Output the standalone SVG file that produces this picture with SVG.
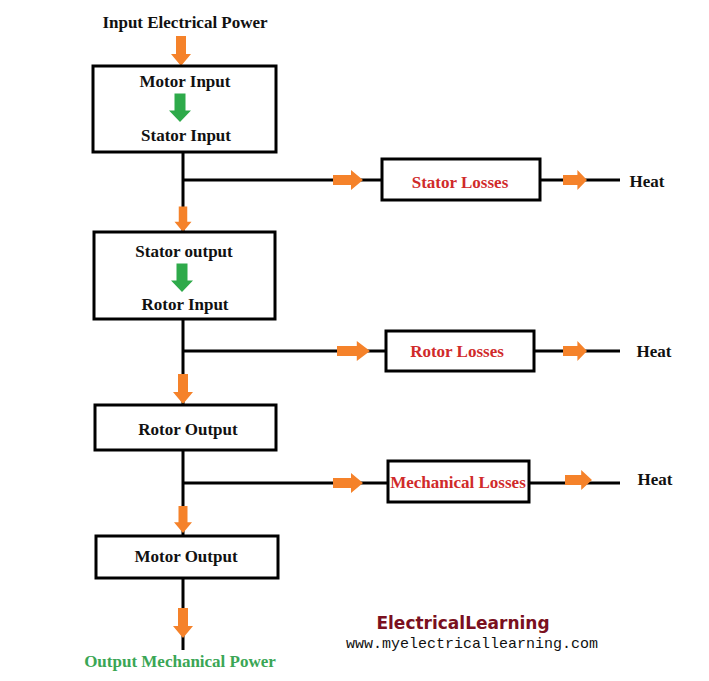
<svg xmlns="http://www.w3.org/2000/svg" xmlns:xlink="http://www.w3.org/1999/xlink" width="709" height="681" viewBox="0 0 709 681">
<style>
.box{fill:#fff;stroke:#000;stroke-width:3}
.ln{stroke:#000;stroke-width:3;fill:none}
.t{font-family:"Liberation Serif",serif;font-weight:bold;font-size:17px;text-anchor:middle;fill:#111}
.r{fill:#d02a2a}
.oa{fill:#f5822a}
.ga{fill:#2eaa4a}
</style>
<defs>
<path id="ar" d="M-30,-5 H-12 V-10 L0,0 L-12,10 V5 H-30 Z"/>
</defs>
<rect width="709" height="681" fill="#fff"/>
<g id="connectors">
<path class="ln" d="M183,152 V232 M183,319 V405 M183,450 V536 M183,578 V650"/>
<path class="ln" d="M183,180 H382 M540,180 H620 M183,351 H386 M534,351 H620 M183,483 H388 M529,483 H620"/>
<use href="#ar" class="oa" transform="translate(181,66) rotate(90)"/>
<use href="#ar" class="oa" transform="translate(183,232) rotate(90) scale(0.85)"/>
<use href="#ar" class="oa" transform="translate(183,404) rotate(90)"/>
<use href="#ar" class="oa" transform="translate(183,533) rotate(90) scale(0.9)"/>
<use href="#ar" class="oa" transform="translate(183,638) rotate(90)"/>
<use href="#ar" class="oa" transform="translate(363,180)"/>
<use href="#ar" class="oa" transform="translate(370,351) scale(1.1,1)"/>
<use href="#ar" class="oa" transform="translate(363,483)"/>
<use href="#ar" class="oa" transform="translate(587,180) scale(0.8,1)"/>
<use href="#ar" class="oa" transform="translate(587,351) scale(0.8,1)"/>
<use href="#ar" class="oa" transform="translate(592,480) scale(0.9,1)"/>
</g>
<text class="t" x="185" y="28" font-size="18">Input Electrical Power</text>
<g id="n1">
<rect class="box" x="93" y="66" width="183" height="86"/>
<text class="t" x="185" y="87">Motor Input</text>
<use href="#ar" class="ga" transform="translate(180,122) rotate(90) scale(0.95,1.1)"/>
<text class="t" x="186" y="141">Stator Input</text>
</g>
<g id="n2">
<rect class="box" x="94" y="232" width="181" height="87"/>
<text class="t" x="184" y="257">Stator output</text>
<use href="#ar" class="ga" transform="translate(182,292) rotate(90) scale(0.95,1.1)"/>
<text class="t" x="185" y="310">Rotor Input</text>
</g>
<g id="n3">
<rect class="box" x="95" y="405" width="181" height="45"/>
<text class="t" x="188" y="435">Rotor Output</text>
</g>
<g id="n4">
<rect class="box" x="96" y="536" width="182" height="42"/>
<text class="t" x="186" y="562" font-size="18">Motor Output</text>
</g>
<g id="s1">
<rect class="box" x="382" y="159" width="158" height="41"/>
<text class="t r" x="460" y="188" font-size="18">Stator Losses</text>
</g>
<g id="s2">
<rect class="box" x="386" y="331" width="148" height="40"/>
<text class="t r" x="457" y="357" font-size="18">Rotor Losses</text>
</g>
<g id="s3">
<rect class="box" x="388" y="461" width="141" height="41"/>
<text class="t r" x="458" y="488" font-size="14">Mechanical Losses</text>
</g>
<text class="t" x="647" y="187" font-size="18">Heat</text>
<text class="t" x="654" y="357" font-size="18">Heat</text>
<text class="t" x="655" y="485" font-size="18">Heat</text>
<text class="t" x="180" y="667" font-size="18" fill="#3aa655" style="fill:#3aa655">Output Mechanical Power</text>
<text x="463" y="629" font-family="'Comic Sans MS','DejaVu Sans',sans-serif" font-size="17" font-weight="bold" fill="#7a1020" text-anchor="middle">ElectricalLearning</text>
<text x="472" y="648" font-family="'Liberation Mono',monospace" font-size="15" fill="#111" text-anchor="middle">www.myelectricallearning.com</text>
</svg>
